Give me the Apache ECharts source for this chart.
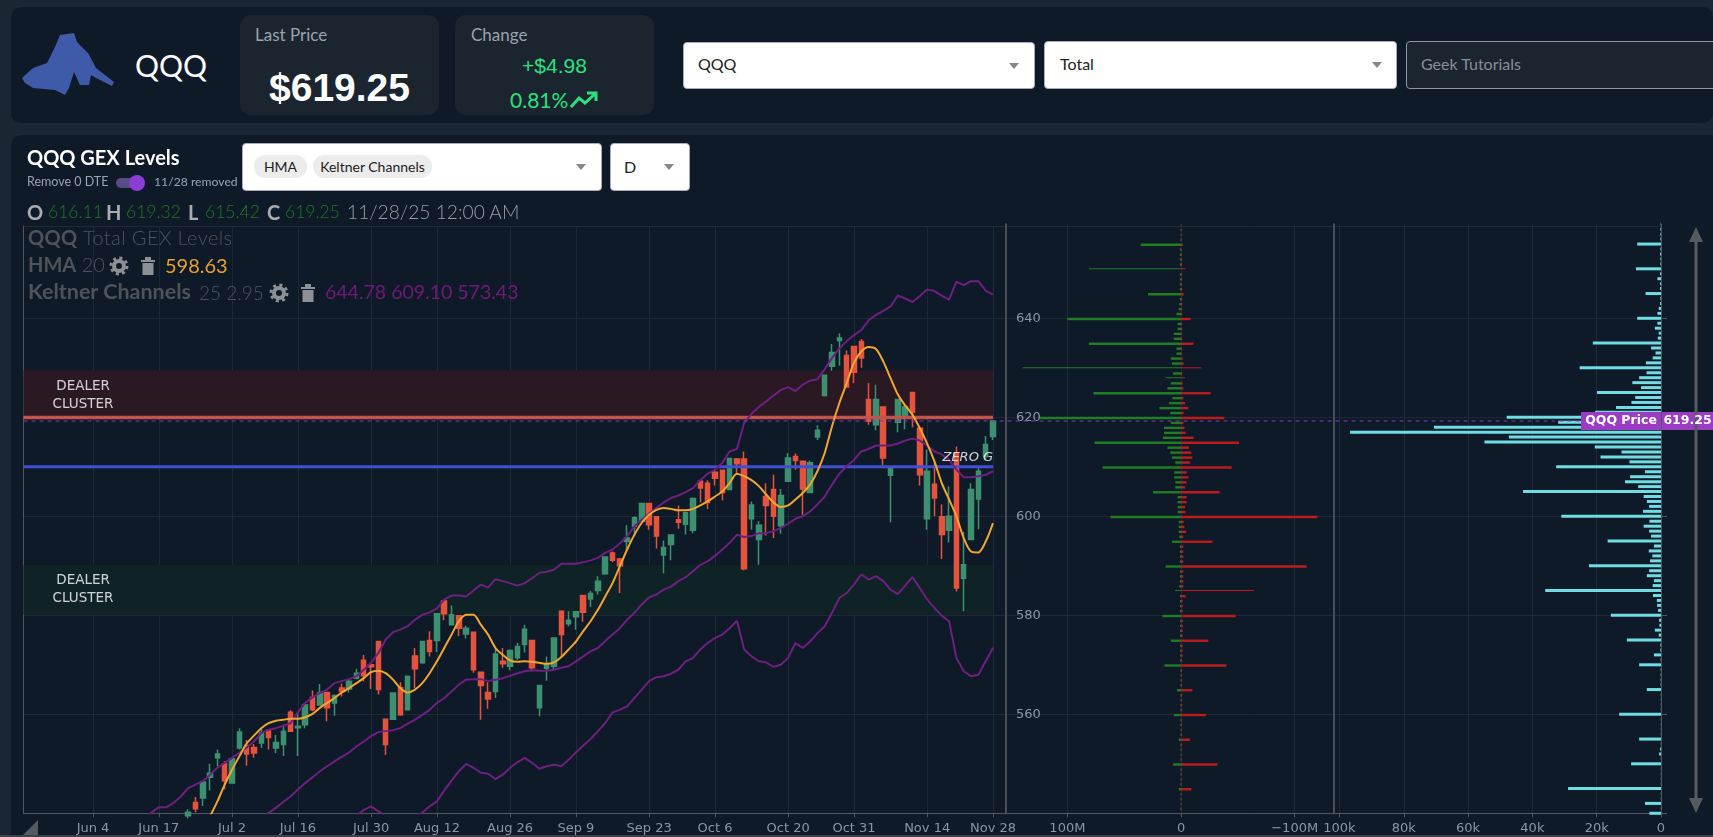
<!DOCTYPE html>
<html><head><meta charset="utf-8"><title>QQQ GEX Levels</title>
<script src="https://cdn.jsdelivr.net/npm/echarts@6/dist/echarts.min.js"></script>
<style>
html,body{margin:0;padding:0;width:1713px;height:837px;overflow:hidden;background:#1a2631;font-family:Lato,"Noto Sans",sans-serif}
.a{position:absolute;white-space:nowrap;line-height:1}
.panel{position:absolute;background:#0f1a29}
.card{position:absolute;background:#1a2530;border-radius:11px}
.box{position:absolute;background:#fff;border:1px solid #aab;border-radius:4px;box-sizing:border-box}
.caret{position:absolute;width:0;height:0;border-left:5px solid transparent;border-right:5px solid transparent;border-top:6px solid #888}
.chip{position:absolute;background:#ececec;border-radius:12px;color:#222;font-size:14px;text-align:center;line-height:23px;height:23px}
#chart{position:absolute;left:0;top:0;width:1713px;height:837px;z-index:1}
.top{z-index:2;pointer-events:none}
.lbl{font-size:20px;font-weight:700;color:#a9acb0}
.val{font-size:17.5px;font-weight:300;color:#1c7a1c}
.dim{font-size:20px;font-weight:300;color:#4f5359}
b{font-weight:700}
</style></head><body>
<div class="panel" style="left:11px;top:7px;width:1702px;height:116px;border-radius:10px"></div>
<div class="panel" style="left:11px;top:135px;width:1702px;height:700px;border-radius:10px 0 0 0"></div>
<div style="position:absolute;left:0;top:835px;width:1713px;height:2px;background:#3a434d"></div>

<svg class="a" style="left:20px;top:30px" width="100" height="70" viewBox="20 30 100 70"><polygon fill="#3f5aa8" points="22,78 33,68 47,63 55,47 60,35 74,33 77,42 88,53 96,68 114,82 112,86 96,78 91,75 89,85 80,85 74,72 69,88 65,95 55,90 33,88 25,83"/></svg>
<div class="a" style="left:135px;top:50px;font-size:30px;color:#fff">QQQ</div>

<div class="card" style="left:240px;top:15px;width:199px;height:100px"></div>
<div class="a" style="left:255px;top:26px;font-size:17px;color:#9aa3ad">Last Price</div>
<div class="a" style="left:240px;width:199px;text-align:center;top:66px;font:700 39px 'Liberation Sans';color:#fff">$619.25</div>

<div class="card" style="left:455px;top:15px;width:199px;height:100px"></div>
<div class="a" style="left:471px;top:26px;font-size:17px;color:#9aa3ad">Change</div>
<div class="a" style="left:455px;width:199px;text-align:center;top:54px;font:400 21px 'Liberation Sans';color:#2de07d">+$4.98</div>
<div class="a" style="left:510px;top:89px;font-size:21px;color:#2de07d">0.81%</div>
<svg class="a" style="left:569px;top:91px" width="30" height="18" viewBox="0 0 30 18"><path d="M2 16 L10 7 L16 12 L27 2 M18 2 H27 V10" fill="none" stroke="#2de07d" stroke-width="3"/></svg>

<div class="box" style="left:683px;top:42px;width:352px;height:47px"></div>
<div class="a" style="left:698px;top:56px;font-size:16px;color:#222">QQQ</div>
<div class="caret" style="left:1009px;top:63px"></div>
<div class="box" style="left:1044px;top:41px;width:353px;height:48px"></div>
<div class="a" style="left:1060px;top:56px;font-size:16px;color:#222">Total</div>
<div class="caret" style="left:1372px;top:62px"></div>
<div class="box" style="left:1406px;top:41px;width:330px;height:48px;background:#1a2530;border-color:#8a97a5"></div>
<div class="a" style="left:1421px;top:56px;font-size:16px;color:#8a8f96">Geek Tutorials</div>

<div class="a top" style="left:27px;top:147px;font-size:20px;font-weight:700;color:#fff">QQQ GEX Levels</div>
<div class="a top" style="left:27px;top:176px;font-size:12.5px;color:#9aa3ad">Remove 0 DTE</div>
<div style="position:absolute;left:116px;top:178px;width:26px;height:10px;border-radius:5px;background:#5b4a86"></div>
<div style="position:absolute;left:129px;top:175px;width:16px;height:16px;border-radius:8px;background:#8b3ed6"></div>
<div class="a top" style="left:154px;top:176px;font-size:12.2px;color:#9aa3ad">11/28 removed</div>
<div class="box" style="left:242px;top:143px;width:360px;height:48px"></div>
<div class="chip" style="left:254px;top:155px;width:53px">HMA</div>
<div class="chip" style="left:313px;top:155px;width:119px">Keltner Channels</div>
<div class="caret" style="left:576px;top:164px"></div>
<div class="box" style="left:610px;top:143px;width:80px;height:48px"></div>
<div class="a" style="left:624px;top:159px;font-size:16px;color:#222">D</div>
<div class="caret" style="left:664px;top:164px"></div>

<div class="a top lbl" style="left:27px;top:202px">O</div><div class="a top val" style="left:48px;top:203px">616.11</div>
<div class="a top lbl" style="left:106px;top:202px">H</div><div class="a top val" style="left:126px;top:203px">619.32</div>
<div class="a top lbl" style="left:188px;top:202px">L</div><div class="a top val" style="left:205px;top:203px">615.42</div>
<div class="a top lbl" style="left:267px;top:202px">C</div><div class="a top val" style="left:285px;top:203px">619.25</div>
<div class="a top" style="left:347px;top:202px;font-size:19.2px;font-weight:300;color:#9a9da1">11/28/25 12:00 AM</div>

<div class="a top dim" style="left:28px;top:227px;letter-spacing:.4px"><b>QQQ</b> Total GEX Levels</div>
<div class="a top dim" style="left:28px;top:254px"><b>HMA</b> 20</div>
<svg class="a top" style="left:109px;top:256px" width="20" height="20" viewBox="0 0 20 20"><circle cx="10" cy="10" r="5" fill="none" stroke="#8d9094" stroke-width="4"/><circle cx="10" cy="10" r="8" fill="none" stroke="#8d9094" stroke-width="3" stroke-dasharray="3 3.3"/></svg>
<svg class="a top" style="left:140px;top:256px" width="16" height="20" viewBox="0 0 16 20"><path d="M1 4 H15 V6 H1 Z M5 1 H11 V4 H5 Z M2.5 7 H13.5 V19 H2.5 Z" fill="#8d9094"/></svg>
<div class="a top" style="left:165px;top:255px;font-size:20px;color:#e8a030">598.63</div>
<div class="a top dim" style="left:28px;top:281px;font-size:21.5px"><b>Keltner Channels</b></div>
<div class="a top dim" style="left:199px;top:283px;font-size:19px">25 2.95</div>
<svg class="a top" style="left:269px;top:283px" width="20" height="20" viewBox="0 0 20 20"><circle cx="10" cy="10" r="5" fill="none" stroke="#8d9094" stroke-width="4"/><circle cx="10" cy="10" r="8" fill="none" stroke="#8d9094" stroke-width="3" stroke-dasharray="3 3.3"/></svg>
<svg class="a top" style="left:300px;top:283px" width="16" height="20" viewBox="0 0 16 20"><path d="M1 4 H15 V6 H1 Z M5 1 H11 V4 H5 Z M2.5 7 H13.5 V19 H2.5 Z" fill="#8d9094"/></svg>
<div class="a top" style="left:325px;top:282px;font-size:19.5px;color:#6f1a78">644.78 609.10 573.43</div>

<div id="chart"></div>
<script>
// Trading days shown on the price axis (oldest first)
const categories = ["May 21","May 22","May 23","May 27","May 28","May 29","May 30","Jun 2","Jun 3","Jun 4","Jun 5","Jun 6","Jun 9","Jun 10","Jun 11","Jun 12","Jun 13","Jun 16","Jun 17","Jun 18","Jun 20","Jun 23","Jun 24","Jun 25","Jun 26","Jun 27","Jun 30","Jul 1","Jul 2","Jul 3","Jul 7","Jul 8","Jul 9","Jul 10","Jul 11","Jul 14","Jul 15","Jul 16","Jul 17","Jul 18","Jul 21","Jul 22","Jul 23","Jul 24","Jul 25","Jul 28","Jul 29","Jul 30","Jul 31","Aug 1","Aug 4","Aug 5","Aug 6","Aug 7","Aug 8","Aug 11","Aug 12","Aug 13","Aug 14","Aug 15","Aug 18","Aug 19","Aug 20","Aug 21","Aug 22","Aug 25","Aug 26","Aug 27","Aug 28","Aug 29","Sep 2","Sep 3","Sep 4","Sep 5","Sep 8","Sep 9","Sep 10","Sep 11","Sep 12","Sep 15","Sep 16","Sep 17","Sep 18","Sep 19","Sep 22","Sep 23","Sep 24","Sep 25","Sep 26","Sep 29","Sep 30","Oct 1","Oct 2","Oct 3","Oct 6","Oct 7","Oct 8","Oct 9","Oct 10","Oct 13","Oct 14","Oct 15","Oct 16","Oct 17","Oct 20","Oct 21","Oct 22","Oct 23","Oct 24","Oct 27","Oct 28","Oct 29","Oct 30","Oct 31","Nov 3","Nov 4","Nov 5","Nov 6","Nov 7","Nov 10","Nov 11","Nov 12","Nov 13","Nov 14","Nov 17","Nov 18","Nov 19","Nov 20","Nov 21","Nov 24","Nov 25","Nov 26","Nov 28"];
const xTickLabels = ["Jun 4","Jun 17","Jul 2","Jul 16","Jul 30","Aug 12","Aug 26","Sep 9","Sep 23","Oct 6","Oct 20","Oct 31","Nov 14","Nov 28"];

// Daily candles, oldest visible first; they end at the last category
const opens  = [539.5,542.2,543.1,547.3,551.2,550.0,546.1,553.2,553.7,553.3,554.2,556.8,553.2,553.9,560.4,557.3,557.9,563.4,561.9,564.4,562.3,565.3,565.1,567.3,570.9,570.0,574.7,559.0,559.0,565.4,560.9,571.8,570.4,574.9,574.9,582.9,578.1,579.9,576.2,576.6,568.5,564.4,564.6,570.7,569.7,571.4,574.1,574.9,561.3,569.3,569.7,580.8,578.3,579.7,584.0,583.3,585.0,588.4,592.6,591.4,594.9,598.0,599.0,602.6,599.9,592.2,594.3,599.3,598.4,597.2,607.1,606.7,608.9,609.3,605.4,611.6,611.6,599.5,595.3,604.0,605.4,598.1,607.1,612.1,611.1,604.8,616.0,624.4,630.3,635.5,632.5,634.3,635.3,623.6,618.5,622.1,608.3,619.0,620.1,625.0,617.8,599.5,606.5,599.9,597.2,612.8,587.5,595.3,603.5,612.1,616.11];
const highs  = [540.8,543.3,546.5,550.0,552.9,550.5,551.0,557.2,554.8,554.0,557.0,557.0,555.8,557.7,560.8,560.3,562.3,564.8,566.1,564.5,564.0,566.2,567.1,569.2,572.0,570.1,574.8,559.1,564.4,566.5,567.8,573.4,574.8,576.8,580.4,583.0,582.0,580.0,577.9,576.7,568.6,566.5,573.7,573.4,573.1,574.4,578.1,575.0,565.9,571.7,575.5,581.0,580.8,580.8,584.1,584.9,587.9,591.9,592.9,591.6,598.2,600.0,602.8,602.7,600.0,595.1,596.3,602.2,600.9,603.8,607.4,607.3,609.4,609.4,611.8,611.8,613.1,603.0,599.0,606.7,608.4,605.5,612.8,612.7,611.3,611.3,618.4,628.6,634.8,637.0,633.5,634.4,635.8,626.9,626.6,622.2,610.1,623.7,622.6,625.1,618.2,613.5,610.8,602.4,606.0,614.1,596.9,606.7,610.1,616.2,619.32];
const lows   = [539.0,540.2,541.5,544.6,549.5,544.8,546.0,552.9,549.6,551.2,553.2,552.9,552.2,551.6,556.5,551.6,557.2,560.6,561.8,558.6,559.7,563.6,564.4,567.1,566.7,565.1,564.0,551.8,558.9,559.7,560.8,565.3,570.2,571.7,572.6,579.0,578.0,575.8,575.3,568.4,558.9,561.1,563.3,569.4,568.9,571.0,572.5,568.7,559.6,566.8,569.0,571.8,577.8,577.1,578.7,581.7,584.2,588.2,590.7,584.5,593.1,596.0,598.7,597.3,593.5,588.5,591.1,597.5,596.3,596.6,602.8,601.5,606.2,603.2,605.3,608.6,589.1,597.3,590.2,596.1,595.6,596.5,607.0,609.4,600.3,604.7,615.4,624.2,629.4,630.4,626.0,626.9,630.0,618.5,617.4,610.3,598.8,617.0,617.6,618.0,606.2,597.3,600.0,591.4,594.7,584.8,580.8,595.2,597.4,611.4,615.42];
const closes = [540.2,540.9,546.3,548.1,552.0,546.6,551.0,556.4,552.0,552.2,556.2,555.3,554.3,556.6,556.6,557.6,561.9,560.9,564.3,561.3,563.8,564.6,566.7,568.3,567.8,569.6,565.0,553.9,564.3,559.9,567.7,569.2,574.7,572.7,580.3,580.3,580.1,577.4,577.4,569.0,565.8,563.1,572.2,570.2,572.9,573.7,577.2,569.4,565.8,570.0,575.4,576.1,579.0,580.7,580.6,584.4,586.9,591.8,591.1,590.0,595.6,599.7,602.6,598.3,596.0,593.7,596.2,598.8,600.7,603.6,605.7,602.8,607.7,604.8,611.7,610.6,589.4,602.3,598.2,602.2,600.0,604.2,611.8,611.3,605.5,610.8,617.4,628.5,633.1,636.0,626.1,629.1,632.0,619.2,623.6,611.8,609.6,623.6,622.1,621.0,608.4,609.1,603.7,596.3,600.0,585.5,590.2,605.4,609.1,614.5,619.25];

// Indicators, oldest visible first; they also end at the last category
const keltnerUpper = [539.1,540.2,541.2,541.2,542.1,543.4,545.1,545.8,546.5,547.8,549.2,550.2,551.2,552.2,553.3,554.5,556.2,556.9,557.2,557.7,558.2,560.4,562.3,563.4,564.3,565.0,566.3,566.7,567.1,567.7,569.0,570.4,572.4,575.1,576.6,577.1,577.8,579.1,580.1,580.6,581.4,583.2,584.0,584.0,583.8,585.0,586.2,585.6,587.3,586.9,586.5,586.0,586.5,587.5,588.6,588.8,589.2,590.4,590.4,590.4,590.7,591.1,591.6,592.6,593.3,594.5,596.0,598.0,599.3,600.5,601.7,602.8,603.7,604.2,604.9,605.7,607.3,608.6,609.4,610.8,613.1,613.6,618.9,620.7,622.1,623.2,624.4,625.5,626.1,625.3,626.6,627.4,627.7,629.7,632.0,633.9,635.4,636.6,637.6,639.6,640.7,641.5,642.4,644.6,644.0,643.3,644.5,645.8,645.5,644.6,643.8,647.4,646.7,647.5,647.5,645.6,644.78];
const keltnerMid = [538.9,540.1,541.1,542.3,543.4,544.8,546.1,547.3,548.5,549.5,550.5,551.4,552.3,553.5,554.5,555.6,556.4,556.6,556.8,557.2,558.1,558.9,559.9,560.9,562.3,563.3,564.6,566.0,567.0,567.1,567.1,566.7,567.0,567.3,567.8,568.3,568.7,568.9,568.8,568.8,569.0,569.4,569.7,570.7,571.7,572.7,573.4,574.8,576.1,577.4,579.1,580.5,582.2,583.6,584.2,585.2,585.8,586.9,587.7,588.9,590.2,590.9,592.0,593.3,594.6,596.3,595.8,596.0,596.6,596.6,597.0,597.6,598.5,599.5,600.0,601.0,602.4,604.0,606.4,608.6,610.1,611.4,613.1,613.6,614.3,614.3,614.3,614.7,615.3,615.7,615.3,614.3,613.1,612.5,611.4,609.4,607.9,607.9,608.1,608.4,609.10];
const keltnerLower = [539.4,540.7,541.4,540.4,539.4,null,null,null,539.4,540.1,541.4,542.4,544.6,546.6,548.5,550.0,549.2,548.2,548.0,546.9,547.8,549.2,550.3,551.2,550.2,549.0,549.5,549.8,549.5,550.8,552.3,553.7,555.0,556.6,558.2,560.4,560.9,561.6,563.3,565.0,566.7,567.5,567.7,568.2,569.0,570.7,571.4,573.1,574.4,575.4,576.1,577.4,578.9,573.1,571.7,570.7,570.5,569.6,570.0,571.4,574.4,573.4,574.7,576.4,577.8,580.5,583.5,584.5,586.2,588.3,587.2,587.9,586.9,585.2,584.3,586.0,587.7,585.5,583.2,581.5,579.9,578.8,571.4,568.7,567.7,568.0,570.7,573.43];
const hma = [539.4,542.4,545.8,548.8,551.5,554.1,555.7,557.2,558.2,558.7,558.9,559.1,559.1,559.4,560.1,561.3,562.3,563.3,564.4,565.3,566.3,567.3,568.5,568.8,568.3,567.0,565.3,564.4,565.0,566.3,568.3,570.7,573.4,576.1,578.8,580.1,580.1,578.1,576.1,573.4,572.0,570.9,570.6,570.7,570.6,570.4,570.2,570.5,571.6,573.1,574.7,576.8,578.8,581.1,583.8,586.5,589.9,593.3,596.3,598.7,600.3,601.3,601.7,601.5,601.2,601.2,601.5,602.2,603.0,604.0,605.0,606.7,608.6,608.1,607.3,606.1,604.4,602.8,601.9,602.2,603.4,604.7,606.4,609.1,612.8,618.2,622.9,626.9,631.0,633.3,634.2,633.8,631.3,627.9,624.6,622.4,620.5,617.8,614.7,611.1,606.7,603.4,600.0,595.6,592.9,592.7,594.9,598.63];

// Levels on the price chart
const dealerBandRed = [629.5, 620.1];
const dealerBandGreen = [590.2, 580.1];
const levelRed = 619.95;
const levelBlue = 610;
const lastPrice = 619.25;

// Strikes from top to bottom with gamma exposure (millions) and open interest (thousands)
const strikes = [659,658,657,656,655,654,653,652,651,650,649,648,647,646,645,644,643,642,641,640,639,638,637,636,635,634,633,632,631,630,629,628,627,626,625,624,623,622,621,620,619,618,617,616,615,614,613,612,611,610,609,608,607,606,605,604,603,602,601,600,599,598,597,596,595,594,593,592,591,590,589,588,587,586,585,584,583,582,581,580,579,578,577,576,575,574,573,572,571,570,569,568,567,566,565,564,563,562,561,560,559,558,557,556,555,554,553,552,551,550,549,548,547,546,545,544,543,542,541,540];
const gexPositive = [0.3,0.5,0.5,0.5,35.5,1,1,1,1,81,1,1,1,1,29,1,1.5,2,4,100,3,3,6.4,6.4,81,4,4,9,8,139.5,7,13.5,9,12,77,7.6,10.5,19,9.4,124,9,15,15,16,76,12,9.4,8,5,69,6,6,5,5,24.6,3,3,3,3,62,2,2,2,1.5,8,1,1,1,1,13.5,1,1,1,1.5,5.3,1,1,1,1,16.4,0.8,0.8,0.8,0.8,9,0.8,0.8,0.8,0.8,14.6,0.5,0.5,0.5,0.5,3.5,0.5,0.5,0.5,0.5,6.4,0.5,0.5,0.5,0.5,2,0.5,0.5,0.5,0.5,7,0.5,0.5,0.5,0.5,2,0.5,0.5,0.5,0.5,0.5];
const gexNegative = [-0.3,-0.5,-0.5,-0.5,-1.5,-0.5,-0.8,-1,-1,-4,-1,-1,-1,-1,-2.3,-1,-1,-1,-1,-8.5,-1,-1,-1,-1,-11,-1,-1,-1.5,-2.3,-18,-1,-3.5,-1.5,-2,-26,-2,-3.5,-6.5,-2.3,-38,-2,-3,-4,-11,-51,-7,-9,-10,-8,-44.5,-5,-6.5,-5,-3.5,-34,-5,-5,-3.5,-4,-120,-2.3,-3,-4.5,-2,-27.5,-2,-2,-2,-2,-110.5,-2,-2,-2,-2,-64,-4,-1.5,-1.5,-1.5,-48,-1.5,-1.5,-1.5,-1.5,-24,-1.5,-1.5,-1.5,-1,-40,-1,-1,-1,-1,-10,-1,-1,-1,-1,-22,-0.8,-0.8,-0.8,-0.8,-8,-0.8,-0.5,-0.5,-0.5,-32,-0.5,-0.5,-0.5,-0.5,-9,-0.5,-0.5,-0.5,-0.5,-0.5];
const openInterest = [0.1,0.2,0.2,0.2,7.4,0.2,0.3,0.2,0.2,7.8,0.3,1.1,0.3,0.3,4.8,0.2,0.3,0.7,1.1,7.4,1.1,1.9,0.7,1,21.2,3.1,1.7,2.6,4.7,25.3,4.5,6.8,8.9,6.2,19.9,8,9.2,14,20.5,48,32,70.6,96.7,47.3,54.9,20.6,12.3,18.8,9.8,32.6,5,9.6,11.2,7.1,42.9,5.4,4.4,3.7,5.6,31,3.6,5.4,3.7,3.1,16.6,2.2,3.8,2.7,3.4,22.4,3.7,4.4,2.2,2.6,36,2.5,1.3,1.2,0.9,15.6,0.6,0.5,1.9,0.7,10.6,0.2,0.2,2.2,0.1,6.8,0.1,0.1,0.1,0.1,4.4,0.05,0.05,0.05,0.05,13,0.05,0.05,0.05,0.05,6.8,0.05,0.3,0.6,0.05,9.3,0.05,0.05,0.05,0.05,28.9,0.05,0.05,5,0.05,3.6];
const thinStrikes = [650,630,628,585];
const gexTicks = [100,0,-100];
const oiTicks = [100,80,60,40,20,0];

// Layout
const plotLeft = 23.5, plotTop = 226, plotBottom = 813.3;
const priceMin = 540, priceMax = 658.65;
const gridColor = '#1f2a37', axisColor = '#50575f', labelColor = '#8b95a5', dividerColor = '#484e56';
const pad = (arr) => Array(categories.length - arr.length).fill(null).concat(arr);
const candleRows = pad(opens.map((o,i)=>[o,closes[i],lows[i],highs[i]])).map(r=>r===null?'-':r);
const thick = (arr) => arr.map((v,i)=>thinStrikes.includes(strikes[i])?null:v);
const thin = (arr) => arr.map((v,i)=>thinStrikes.includes(strikes[i])?v:null);
const isDateTick = (i,name) => xTickLabels.includes(name);
const labelFont = {color:labelColor,fontSize:13,fontFamily:'"DejaVu Sans"'};
const yOpts = {type:'value',min:priceMin,max:priceMax,axisLine:{show:false},axisTick:{show:false},axisLabel:{show:false},splitLine:{show:false}};
const hiddenX = {type:'value',min:0,max:1,show:false};
const plotH = plotBottom-plotTop;
const lineOf = (name,data,color,z,smooth)=>({name,type:'line',xAxisIndex:1,yAxisIndex:1,data:pad(data),symbol:'none',smooth:smooth||false,connectNulls:false,z,lineStyle:{color,width:2},silent:true});
const gexBar=(name,data,color,w,xi,yi)=>({name,type:'bar',xAxisIndex:xi,yAxisIndex:yi,data,barWidth:w,barGap:'-100%',itemStyle:{color},silent:true,z:3});
const noteLabel=(text,x,y,extra)=>({type:'scatter',xAxisIndex:4,yAxisIndex:4,data:[[x,y]],symbolSize:0,silent:true,z:9,label:Object.assign({show:true,position:'inside',formatter:text,color:'#fff',fontSize:13.5,lineHeight:18,align:'center',verticalAlign:'middle',fontFamily:'"DejaVu Sans"'},extra||{})});

const chart = echarts.init(document.getElementById('chart'),null,{renderer:'canvas'});
chart.setOption({
  backgroundColor:'transparent',animation:false,
  grid:[
    {left:plotLeft,top:plotTop,width:1661-plotLeft,height:plotH},          // background rules
    {left:plotLeft,top:plotTop,width:973.16,height:plotH},                 // candles
    {left:1006,top:224.25,width:328,height:589.05},                        // gamma exposure
    {left:1334,top:224.25,width:327,height:589.05},                        // open interest
    {left:plotLeft,top:plotTop,width:969.5,height:plotH}                   // levels
  ],
  xAxis:[
    {gridIndex:0,type:'value',min:0,max:1,axisLine:{show:true,lineStyle:{color:axisColor}},axisTick:{show:false},axisLabel:{show:false},splitLine:{show:false}},
    {gridIndex:1,type:'category',data:categories,boundaryGap:true,axisLine:{show:false},
      axisTick:{show:true,alignWithLabel:true,length:4,interval:isDateTick,lineStyle:{color:axisColor}},
      axisLabel:Object.assign({interval:isDateTick,margin:9,hideOverlap:false},labelFont),
      splitLine:{show:true,alignWithLabel:true,interval:isDateTick,lineStyle:{color:gridColor}}},
    {gridIndex:2,type:'value',inverse:true,min:-134.6,max:154,axisLine:{show:false},
      axisTick:{show:true,length:4,customValues:gexTicks,lineStyle:{color:axisColor}},
      axisLabel:Object.assign({customValues:gexTicks,margin:9,formatter:v=>v===0?'0':(v<0?'\u2212'+(-v):v)+'M'},labelFont),
      splitLine:{show:true,lineStyle:{color:gridColor}}},
    {gridIndex:3,type:'value',inverse:true,min:0,max:101.7,axisLine:{show:false},
      axisTick:{show:true,length:4,customValues:oiTicks,lineStyle:{color:axisColor}},
      axisLabel:Object.assign({customValues:oiTicks,margin:9,formatter:v=>v===0?'0':v+'k'},labelFont),
      splitLine:{show:true,lineStyle:{color:gridColor}}},
    Object.assign({gridIndex:4},hiddenX)
  ],
  yAxis:[
    {gridIndex:0,type:'value',min:priceMin,max:priceMax,interval:20,axisLine:{show:true,lineStyle:{color:axisColor}},axisTick:{show:false},axisLabel:{show:false},splitLine:{show:true,lineStyle:{color:gridColor}}},
    Object.assign({gridIndex:1},yOpts),
    {gridIndex:2,type:'category',inverse:true,boundaryGap:false,data:strikes,position:'left',
      axisLine:{show:true,onZero:false,lineStyle:{color:dividerColor,width:2}},axisTick:{show:false},
      axisLabel:Object.assign({inside:true,margin:10,interval:(i,v)=>+v%20===0&&+v!==540},labelFont),splitLine:{show:false}},
    {gridIndex:3,type:'category',inverse:true,boundaryGap:false,data:strikes,position:'left',
      axisLine:{show:true,onZero:false,lineStyle:{color:dividerColor,width:2}},axisTick:{show:false},axisLabel:{show:false},splitLine:{show:false}},
    Object.assign({gridIndex:4},yOpts),
    {gridIndex:3,type:'category',inverse:true,boundaryGap:false,data:strikes,position:'right',
      axisLine:{show:true,onZero:false,lineStyle:{color:axisColor}},axisTick:{show:true,length:6,alignWithLabel:true,interval:(i,v)=>+v%20===0,lineStyle:{color:axisColor}},axisLabel:{show:false},splitLine:{show:false}}
  ],
  series:[
    {type:'line',name:'Last price',xAxisIndex:0,yAxisIndex:0,data:[[0,lastPrice],[1,lastPrice]],symbol:'none',silent:true,z:8,lineStyle:{color:'#7b3fb0',width:1.2,type:[4,4]}},
    {type:'line',name:'Dealer bands',xAxisIndex:4,yAxisIndex:4,data:[],silent:true,z:1,
      markArea:{silent:true,data:[
        [{xAxis:0,yAxis:dealerBandRed[0],itemStyle:{color:'#2a1822'}},{xAxis:1,yAxis:dealerBandRed[1]}],
        [{xAxis:0,yAxis:dealerBandGreen[0],itemStyle:{color:'#0f2226'}},{xAxis:1,yAxis:dealerBandGreen[1]}]
      ]}},
    {type:'candlestick',name:'QQQ',xAxisIndex:1,yAxisIndex:1,data:candleRows,barWidth:5,silent:true,z:3,
      itemStyle:{color:'#3d9070',color0:'#e5533f',borderColor:'#3d9070',borderColor0:'#e5533f',borderWidth:1.5}},
    {type:'line',name:'Red level',xAxisIndex:4,yAxisIndex:4,data:[[0,levelRed],[1,levelRed]],symbol:'none',silent:true,z:4,lineStyle:{color:'#c4524c',width:3.5}},
    {type:'line',name:'Blue level',xAxisIndex:4,yAxisIndex:4,data:[[0,levelBlue],[1,levelBlue]],symbol:'none',silent:true,z:4,lineStyle:{color:'#4150d2',width:3}},
    lineOf('Keltner upper',keltnerUpper,'#6e1f80',5),
    lineOf('Keltner mid',keltnerMid,'#6e1f80',5),
    lineOf('Keltner lower',keltnerLower,'#6e1f80',5),
    lineOf('HMA',hma,'#f0a72e',6,0.3),
    noteLabel('DEALER\nCLUSTER',0.0614,624.4),
    noteLabel('DEALER\nCLUSTER',0.0614,585.2),
    noteLabel('ZERO G',0.974,611.9,{fontStyle:'italic',fontSize:13}),
    gexBar('GEX +',thick(gexPositive),'#1f7d22',2.4,2,2),
    gexBar('GEX -',thick(gexNegative),'#bd1c1f',2.4,2,2),
    gexBar('GEX + thin',thin(gexPositive),'#1f7d22',1,2,2),
    gexBar('GEX - thin',thin(gexNegative),'#bd1c1f',1,2,2),
    gexBar('Open interest',openInterest,'#6fdde3',3,3,3)
  ]
});

const py = chart.convertToPixel({gridIndex:0},[0,lastPrice])[1];
chart.setOption({graphic:[
  {type:'rect',z:20,shape:{x:1581,y:py-9,width:80,height:18},style:{fill:'#9a3cc4'}},
  {type:'rect',z:20,shape:{x:1662,y:py-9,width:51,height:18},style:{fill:'#9a3cc4'}},
  {type:'text',z:21,style:{x:1621,y:py,text:'QQQ Price',fill:'#fff',font:'bold 12.5px "DejaVu Sans"',textAlign:'center',textVerticalAlign:'middle'}},
  {type:'text',z:21,style:{x:1687.5,y:py,text:'619.25',fill:'#fff',font:'bold 12.5px "DejaVu Sans"',textAlign:'center',textVerticalAlign:'middle'}},
  {type:'rect',z:20,shape:{x:1694.5,y:240,width:3,height:560},style:{fill:'#555a60'}},
  {type:'polygon',z:20,shape:{points:[[1689,242],[1696,227],[1703,242]]},style:{fill:'#555a60'}},
  {type:'polygon',z:20,shape:{points:[[1689,798],[1703,798],[1696,813]]},style:{fill:'#555a60'}},
  {type:'polygon',z:20,shape:{points:[[23,835],[38,820],[38,835]]},style:{fill:'#555a60'}}
]});
</script>
</body></html>
